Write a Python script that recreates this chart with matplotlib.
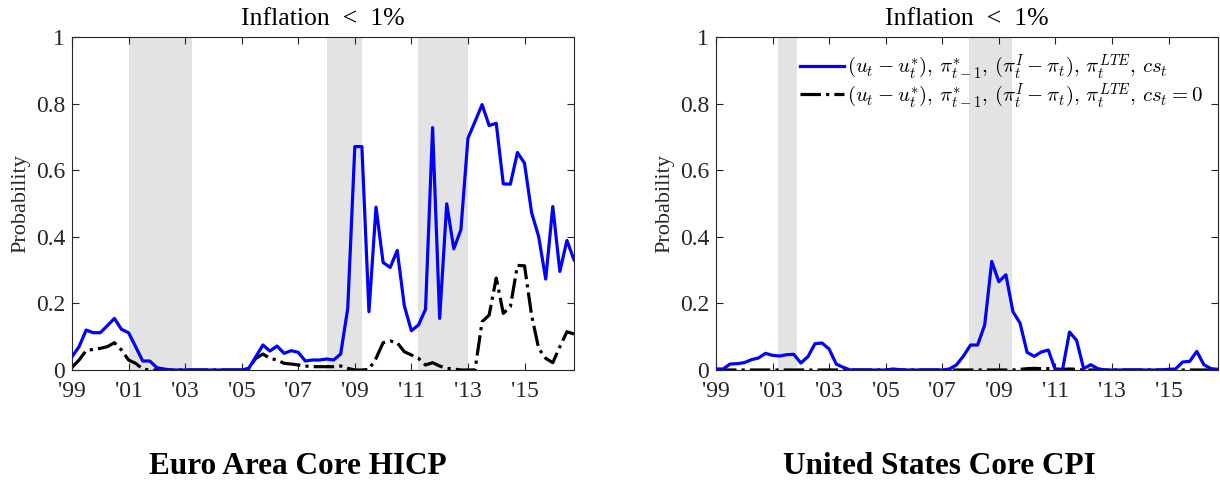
import numpy as np
import matplotlib
matplotlib.use("Agg")
import matplotlib.pyplot as plt

plt.rcParams["font.family"] = ["Liberation Serif", "DejaVu Serif"]
plt.rcParams["mathtext.fontset"] = "cm"

# quarterly dates 1999Q1 .. 2016Q4
quarters = 1999 + np.arange(72) / 4

ea_cs = [0.04, 0.07, 0.12, 0.112, 0.112, 0.133, 0.155, 0.122,
         0.112, 0.07, 0.027, 0.027, 0.007, 0.003, 0.0, 0.0,
         0.0, 0.0, 0.0, 0.0, 0.0, 0.0, 0.0, 0.0,
         0.0, 0.005, 0.04, 0.075, 0.057, 0.072, 0.05, 0.058,
         0.053, 0.027, 0.03, 0.03, 0.033, 0.03, 0.048, 0.185,
         0.671, 0.671, 0.175, 0.489, 0.323, 0.308, 0.359, 0.193,
         0.118, 0.135, 0.182, 0.728, 0.155, 0.499, 0.364, 0.421,
         0.696, 0.746, 0.797, 0.734, 0.741, 0.559, 0.558, 0.653,
         0.621, 0.473, 0.401, 0.273, 0.491, 0.296, 0.389, 0.331]
ea_cs0 = [0.008, 0.03, 0.058, 0.062, 0.065, 0.07, 0.082, 0.06,
          0.03, 0.02, 0.003, 0.0, 0.0, 0.0, 0.0, 0.0,
          0.0, 0.0, 0.0, 0.0, 0.0, 0.0, 0.0, 0.0,
          0.0, 0.005, 0.035, 0.048, 0.035, 0.03, 0.02, 0.018,
          0.015, 0.012, 0.01, 0.01, 0.01, 0.01, 0.012, 0.005,
          0.0, 0.0, 0.002, 0.035, 0.082, 0.087, 0.082, 0.055,
          0.045, 0.035, 0.015, 0.022, 0.012, 0.005, 0.003, 0.0,
          0.0, 0.0, 0.145, 0.165, 0.276, 0.17, 0.19, 0.314,
          0.313, 0.165, 0.065, 0.035, 0.022, 0.07, 0.115, 0.108]

us_cs = [0.003, 0.003, 0.018, 0.019, 0.022, 0.031, 0.036, 0.05,
         0.044, 0.042, 0.046, 0.047, 0.021, 0.04, 0.079, 0.081,
         0.063, 0.018, 0.008, 0.0, 0.0, 0.0, 0.0, 0.0,
         0.0, 0.003, 0.001, 0.0, 0.0, 0.0, 0.0, 0.0,
         0.0, 0.003, 0.015, 0.042, 0.075, 0.075, 0.135, 0.326,
         0.265, 0.286, 0.175, 0.141, 0.053, 0.041, 0.054, 0.06,
         0.0, 0.0, 0.114, 0.089, 0.004, 0.016, 0.004, 0.0,
         0.0, 0.0, 0.0, 0.0, 0.0, 0.0, 0.0, 0.0,
         0.002, 0.003, 0.024, 0.026, 0.056, 0.016, 0.004, 0.002]
us_cs0 = [0.0] * 43 + [0.002, 0.004, 0.005, 0.004, 0.004,
                       0.003, 0.002, 0.003, 0.002] + [0.0] * 20

ea_shade = [(2001.0, 2003.25), (2008.0, 2009.25), (2011.25, 2013.0)]
us_shade = [(2001.2, 2001.85), (2007.95, 2009.45)]

xticks = list(range(1999, 2016, 2))
xticklabels = ["'%02d" % (y % 100) for y in xticks]
yticks = [0, 0.2, 0.4, 0.6, 0.8, 1]
yticklabels = ["0", "0.2", "0.4", "0.6", "0.8", "1"]

lab1 = r"$(u_t-u_t^{*}),\,\pi_{t-1}^{*},\,(\pi_t^{I}-\pi_t),\,\pi_t^{LTE},\,cs_t$"
lab2 = r"$(u_t-u_t^{*}),\,\pi_{t-1}^{*},\,(\pi_t^{I}-\pi_t),\,\pi_t^{LTE},\,cs_t=0$"

fig = plt.figure(figsize=(12.2, 4.83), dpi=100)
ax1 = fig.add_axes([72 / 1220, 113 / 483, 502 / 1220, 333 / 483])
ax2 = fig.add_axes([716 / 1220, 113 / 483, 502 / 1220, 333 / 483])

for ax, cs, cs0, shade in [(ax1, ea_cs, ea_cs0, ea_shade),
                           (ax2, us_cs, us_cs0, us_shade)]:
    for a, b in shade:
        ax.axvspan(a, b, color="#e3e3e3", lw=0, zorder=0)
    ax.plot(quarters, cs, color="#0000ff", lw=2.3, label=lab1, zorder=3)
    ax.plot(quarters, cs0, color="black", lw=2.3, ls="-.", label=lab2,
            zorder=2)
    ax.set_xlim(1999, 2016.75)
    ax.set_ylim(0, 1)
    ax.set_xticks(xticks)
    ax.set_xticklabels(xticklabels)
    ax.set_yticks(yticks)
    ax.set_yticklabels(yticklabels)
    ax.tick_params(direction="in", top=True, right=True, length=5,
                   width=0.8, color="#262626", labelsize=17,
                   labelcolor="#262626")
    ax.tick_params(axis="x", pad=8)
    ax.tick_params(axis="y", pad=5)
    for s in ax.spines.values():
        s.set_color("#262626")
        s.set_linewidth(0.8)
    ax.set_title("Inflation  <  1%", fontsize=18.5, pad=9)
    ax.set_ylabel("Probability", fontsize=16, color="#262626", labelpad=4)

ax2.legend(loc="upper right", frameon=False, fontsize=15, handlelength=2.1,
           handletextpad=0.15, borderaxespad=0.35, labelspacing=0.0)

fig.text(298 / 1220, 17 / 483, "Euro Area Core HICP", ha="center",
         va="center", fontsize=22.5, fontweight="bold")
fig.text(939 / 1220, 17 / 483, "United States Core CPI", ha="center",
         va="center", fontsize=22.5, fontweight="bold")

fig.savefig("out.png", dpi=100)
